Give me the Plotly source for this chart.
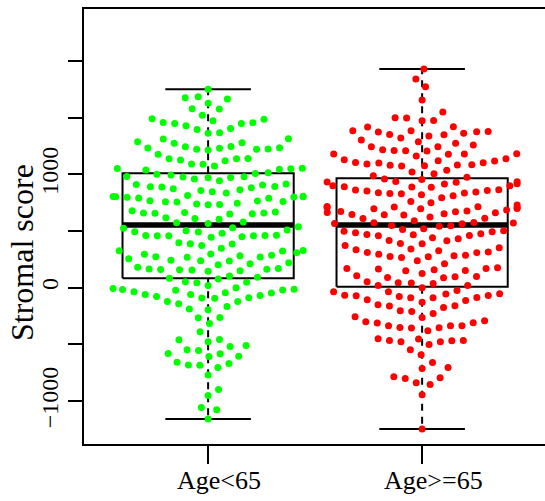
import numpy as np
import plotly.graph_objects as go

# ---------------- data ----------------
categories = ["Age<65", "Age>=65"]

age_lt65_scores = [
    1750,
    1676, 1664, 1685, 1626,
    1576, 1578, 1520,
    1473, 1455, 1429, 1485, 1449, 1491, 1457, 1447,
    1396, 1361, 1405, 1367,
    1311, 1288, 1229, 1223, 1244, 1235, 1220, 1214, 1222, 1246, 1273, 1231, 1279, 1314,
    1176, 1138, 1126, 1091, 1120, 1136, 1140, 1073, 1088,
    1050, 1038, 1014, 994, 970, 1044, 958, 1000, 972, 979, 976, 1053, 1008, 1048,
    981, 911, 906, 891, 893, 914, 873, 882, 864, 889, 944,
    847, 803, 805, 801, 806, 788, 759, 732, 764, 835, 734, 757, 790, 756, 767, 856, 738, 797, 814, 800,
    744, 659, 653, 603, 656, 650, 609, 617, 667, 679, 658, 664,
    567, 579, 573, 538, 529, 523,
    491, 459, 461, 457, 444, 509, 479, 494, 503, 450, 460, 458, 462,
    385, 347, 388, 373, 397,
    326, 324, 282, 328, 273, 309, 256, 270, 297, 285, 268, 294, 241,
    220, 159, 161, 203, 150, 165, 238, 144, 179, 235, 162, 212, 156, 168,
    103, 82, 91, 76, 53, 44, 47,
    -14, -35, -61, -79, -123, -121, -17, -70, -91, 0, -93, -44, 18, -88, -61, -46, -20, -22, -8,
    -194, -188, -167, -141,
    -264, -266, -317, -388,
    -458, -476, -460, -511, -520, -547, -555, -582, -608, -580, -606,
    -658, -682, -684, -705, -670, -770,
    -899, -952, -1058, -1076, -1158,
]

age_ge65_scores = [
    1928, 1840, 1773, 1655, 1549,
    1499, 1473, 1475, 1497,
    1420,
    1385, 1376, 1349, 1338, 1320, 1378, 1374, 1418, 1351, 1361, 1383,
    1302, 1288, 1258, 1273,
    1244, 1242, 1179, 1208, 1181, 1161, 1177, 1210, 1180, 1217, 1206,
    1129, 1120, 1100, 1079, 1073, 1075, 1091, 1085, 1082, 1102, 1104, 1118, 1138,
    1005, 1035, 1020, 988,
    958, 955, 973, 914, 935, 885, 916, 932, 930, 937, 887, 891,
    864, 853, 844, 829, 835, 900, 794, 838, 898, 811, 820, 831, 856, 862,
    759, 729, 750,
    676, 711, 670, 714, 697, 662, 644, 685, 646, 642, 612, 699, 653, 660, 708, 716, 706, 672, 695, 623,
    610, 570, 541, 591, 547, 567, 564, 549, 573, 575,
    520, 494, 467, 503, 459, 461, 441, 512, 469, 485, 432, 476, 497,
    415, 413, 353, 341, 315, 373, 388, 390,
    326, 309, 285, 273, 335, 265, 212, 238, 275, 294, 282, 311,
    176, 165, 159, 150, 152, 168, 170,
    106, 97, 88, 90, 126, 99,
    18, 36, 20, 44, 42, 53, 0, -35,
    -53, -70, -79, -106, -37, -88, -114, -161, -129, -90, -55, -86, -72, -68, -26, -159, -203, -229, -211, -176, -150,
    -300, -309, -335, -353, -351, -291, -379, -256, -355, -335, -337, -311, -264,
    -450, -467, -476, -452, -502, -478, -465, -469, -547, -591,
    -661, -705, -714, -785, -802, -838, -855, -794,
    -944,
    -1246,
]

group_values = [age_lt65_scores, age_ge65_scores]
group_colors = ["#00FF00", "#FF0000"]

box_q1 = [83, 9]
box_median = [553, 553]
box_q3 = [1009, 965]
whisker_low = [-1158, -1246]
whisker_high = [1750, 1928]

y_tick_values = [-1000, -500, 0, 500, 1000, 1500, 2000]
y_tick_labels = ["\u22121000", "", "0", "", "1000", "", ""]

y_title = "Stromal score"

# ---------------- geometry / style ----------------
W, H = 545, 501
M_L, M_R, M_T, M_B = 84, 0, 9, 57
X_PX_PER_UNIT = 214.0
X_RANGE = [0.42, 0.42 + (W - M_L - M_R) / X_PX_PER_UNIT]
Y_RANGE = [-1379, 2458]
Y_PX_PER_UNIT = (H - M_T - M_B) / (Y_RANGE[1] - Y_RANGE[0])
SWARM_X_PX = 11.5   # horizontal point spacing of the swarm
SWARM_Y_PX = 14.0   # vertical point spacing of the swarm
GUTTER_PX = 95.0
FONT = "Liberation Serif"


def swarm_offsets(values):
    """R beeswarm 'swarm' method (priority ascending) with gutter corral."""
    ys = np.asarray(values, dtype=float) * Y_PX_PER_UNIT / SWARM_Y_PX
    order = np.argsort(ys, kind="stable")
    px, py = [], []
    out = np.zeros(len(ys))
    for i in order:
        yi = ys[i]
        nx, ny = [], []
        for xj, yj in zip(px, py):
            if abs(yi - yj) < 1:
                nx.append(xj)
                ny.append(yj)
        nx = np.array(nx)
        ny = np.array(ny)
        if len(nx):
            off = np.sqrt(1 - (yi - ny) ** 2)
            cands = np.concatenate([[0.0], nx + off, nx - off])
            ok = []
            for c in cands:
                d2 = (c - nx) ** 2 + (yi - ny) ** 2
                ok.append(np.all(d2 > 0.999))
            cands = cands[np.array(ok)]
            xi = cands[np.argmin(np.abs(cands))]
        else:
            xi = 0.0
        out[i] = xi
        px.append(xi)
        py.append(yi)
    off_px = np.clip(out * SWARM_X_PX, -GUTTER_PX, GUTTER_PX)
    return off_px / X_PX_PER_UNIT


fig = go.Figure()

line_kw = dict(mode="lines", hoverinfo="skip", showlegend=False)
for i, cat in enumerate(categories):
    c = i + 1
    # box
    fig.add_trace(go.Scatter(
        x=[c - 0.4, c + 0.4, c + 0.4, c - 0.4, c - 0.4],
        y=[box_q1[i], box_q1[i], box_q3[i], box_q3[i], box_q1[i]],
        line=dict(color="black", width=2), **line_kw))
    # whiskers (dashed)
    fig.add_trace(go.Scatter(x=[c, c], y=[box_q3[i], whisker_high[i]],
                             line=dict(color="black", width=2, dash="7px,6px"), **line_kw))
    fig.add_trace(go.Scatter(x=[c, c], y=[box_q1[i], whisker_low[i]],
                             line=dict(color="black", width=2, dash="7px,6px"), **line_kw))
    # caps
    for v in (whisker_high[i], whisker_low[i]):
        fig.add_trace(go.Scatter(x=[c - 0.2, c + 0.2], y=[v, v],
                                 line=dict(color="black", width=2), **line_kw))
    # median
    fig.add_trace(go.Scatter(x=[c - 0.4, c + 0.4], y=[box_median[i], box_median[i]],
                             line=dict(color="black", width=5.5), **line_kw))

for i, cat in enumerate(categories):
    vals = group_values[i]
    xs = (i + 1) + swarm_offsets(vals)
    fig.add_trace(go.Scatter(
        x=xs, y=vals, mode="markers", name=cat, showlegend=False,
        marker=dict(color=group_colors[i], size=7, line=dict(width=0)),
    ))

# category labels
for i, cat in enumerate(categories):
    fig.add_annotation(
        x=i + 1, y=0, xref="x", yref="paper", text=cat, showarrow=False,
        xanchor="center", yanchor="top", xshift=11, yshift=-20,
        font=dict(family=FONT, size=26, color="black"),
    )

fig.add_annotation(
    x=(22 - M_L) / (W - M_L - M_R), y=(H - M_B - 253) / (H - M_T - M_B),
    xref="paper", yref="paper", text=y_title, showarrow=False, textangle=-90,
    xanchor="center", yanchor="middle",
    font=dict(family=FONT, size=32, color="black"),
)

fig.update_layout(
    width=W, height=H,
    margin=dict(l=M_L, r=M_R, t=M_T, b=M_B, pad=0),
    paper_bgcolor="white", plot_bgcolor="white",
    showlegend=False,
    font=dict(family=FONT, color="black"),
)
fig.update_xaxes(
    range=X_RANGE, tickvals=[1, 2], ticktext=["", ""], showticklabels=False,
    ticks="outside", ticklen=18, tickwidth=2, tickcolor="black",
    showline=True, linecolor="black", linewidth=2, mirror=True,
    showgrid=False, zeroline=False,
)
fig.update_yaxes(
    range=Y_RANGE, tickvals=y_tick_values, ticktext=y_tick_labels, tickangle=-90,
    ticks="outside", ticklen=14, tickwidth=2, tickcolor="black",
    tickfont=dict(family=FONT, size=24, color="black"),
    showline=True, linecolor="black", linewidth=2,
    showgrid=False, zeroline=False,
)

fig.write_html(
    "out.html",
    config={"displayModeBar": False},
    post_script="document.body.style.margin='0px';document.body.style.overflow='hidden';",
)
